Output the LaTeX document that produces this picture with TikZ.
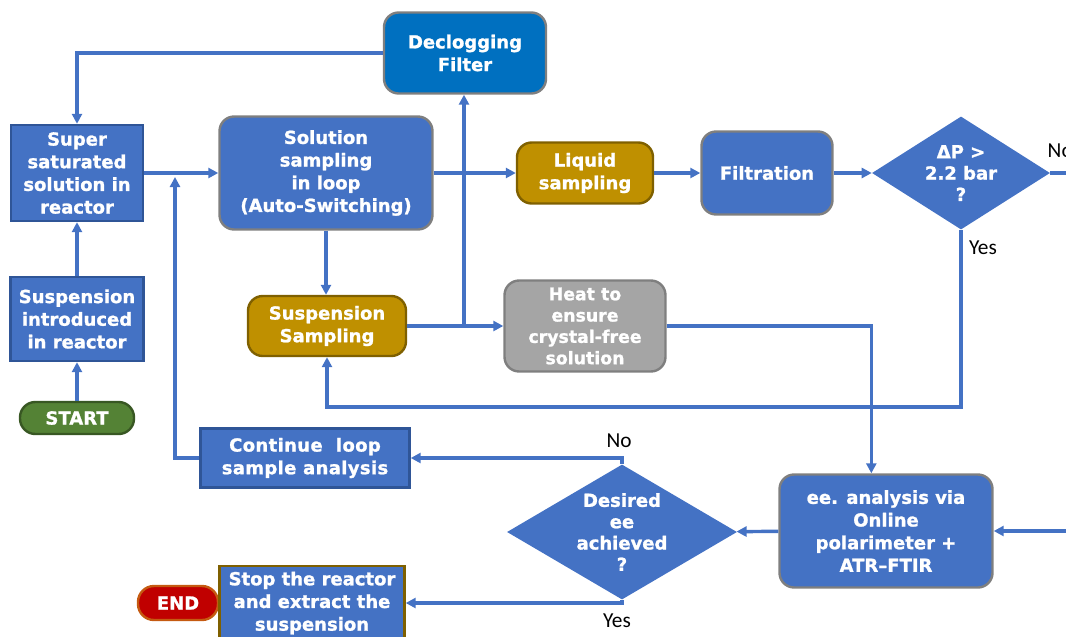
\documentclass[tikz,border=0pt]{standalone}
\usepackage{fontspec}
\setmainfont{DejaVu Sans}[BoldFeatures={FakeBold=1.2}]
\newfontfamily\yesnofont{Carlito}
\usetikzlibrary{arrows.meta,positioning,shapes.geometric}

\definecolor{boxblue}{HTML}{4472C4}
\definecolor{darkblue}{HTML}{2F5597}
\definecolor{filterblue}{HTML}{0070C0}
\definecolor{edgegray}{HTML}{7F7F7F}
\definecolor{mustard}{HTML}{BF9000}
\definecolor{brown}{HTML}{7F6000}
\definecolor{heatgray}{HTML}{A5A5A5}
\definecolor{startgreen}{HTML}{548235}
\definecolor{darkgreen}{HTML}{385723}
\definecolor{endred}{HTML}{C00000}
\definecolor{endorange}{HTML}{C55A11}

\begin{document}
\begin{tikzpicture}[x=0.75pt,y=-0.75pt,>={Triangle[length=7.5pt,width=7.5pt]},
  sz/.style 2 args={minimum width=#1*0.75pt,minimum height=#2*0.75pt},
  box/.style={draw=darkblue,line width=1.8pt,fill=boxblue,text=white,align=center,
    inner sep=0pt,font=\fontsize{13.5}{17}\selectfont\bfseries},
  rbox/.style={box,draw=edgegray,rounded corners=11pt},
  sample/.style={rbox,fill=mustard,draw=brown},
  dia/.style={diamond,fill=boxblue,inner sep=0pt},
  dtext/.style={text=white,align=center,font=\fontsize{13.5}{16}\selectfont\bfseries},
  flow/.style={->,draw=boxblue,line width=2.6pt},
  answer/.style={font=\yesnofont\fontsize{16}{18}\selectfont}]
\useasboundingbox (0,0) rectangle (1066,636);

% boxes
\node[rbox,fill=filterblue,sz={162}{81}] (declog) at (465,53) {Declogging\\Filter};
\node[box,sz={132}{96}] (super) at (77,173) {Super\\saturated\\solution in\\reactor};
\node[box,sz={133}{84}] (susp) at (77,319) {Suspension\\introduced\\in reactor};
\node[box,fill=startgreen,draw=darkgreen,rounded corners=11.5pt,sz={114}{32}] (start) at (77,418) {START};
\node[rbox,sz={213}{113}] (sol) at (326,173) {Solution\\sampling\\in loop\\(Auto-Switching)};
\node[sample,sz={136}{61}] (liquid) at (585,173) {Liquid\\sampling};
\node[rbox,sz={131}{83}] (filt) at (767,173) {Filtration};
\node[dia,sz={178}{113},label={[dtext]center:{ΔP >\\2.2 bar\\?}}] (dp) at (961,173) {};
\node[sample,sz={158}{60}] (ssamp) at (327,326) {Suspension\\Sampling};
\node[rbox,fill=heatgray,draw=edgegray,sz={161}{91},font=\fontsize{13}{16}\selectfont\bfseries] (heat) at (585,326) {Heat to\\ensure\\crystal-free\\solution};
\node[box,sz={209}{59},font=\fontsize{13.5}{17}\selectfont\bfseries\addfontfeature{LetterSpace=2}] (cont) at (305,458) {Continue\ \ loop\\sample analysis};
\node[rbox,sz={213}{113}] (ee) at (886,531) {ee. analysis via\\Online\\polarimeter +\\ATR–FTIR};
\node[dia,sz={230}{135},label={[dtext]center:{Desired\\ee\\achieved\\?}}] (dee) at (622,532) {};
\node[box,fill=endred,draw=endorange,rounded corners=12pt,sz={80}{34}] (endn) at (178,603) {END};
\node[box,draw=brown,sz={185}{74}] (stop) at (312,603) {Stop the reactor\\and extract the\\suspension};

% free ends and joints
\coordinate (joinL) at (175,177);
\coordinate (joinV) at (464,326);
\coordinate (loopB) at (961,407);
\coordinate (outR) at (1070,173);
\coordinate (inR) at (1070,531);

% connectors
\draw[flow] (start) -- (susp);
\draw[flow] (susp) -- (super);
\draw[flow] (super) -- (sol);
\draw[flow] (declog.west) -| (super.north);
\draw[flow] (cont.west) -| (joinL);
\draw[flow] (sol) -- (liquid);
\draw[flow] (sol.south) -- (sol.south |- ssamp.north);
\draw[flow] (ssamp) -- (heat);
\draw[flow] (joinV) -- (joinV |- declog.south);
\draw[flow] (liquid) -- (filt);
\draw[flow] (filt) -- (dp);
\draw[flow] (dp.south) -- (loopB) -| (ssamp.south);
\draw[boxblue,line width=2.6pt] (dp.east) -- (outR);
\draw[flow] (heat.east) -| ([xshift=-11pt]ee.north);
\draw[flow] (inR) -- (ee.east);
\draw[flow] (ee) -- (dee);
\draw[flow] (dee.north) |- (cont.east);
\draw[flow] (dee.south) |- (stop.east);

% answers
\node[answer] (dpyes) at (983,248) {Yes};
\node[answer,anchor=west] (dpno) at (1043,151) {No};
\node[answer] (deeno) at (619,441) {No};
\node[answer] (deeyes) at (617,621) {Yes};
\end{tikzpicture}
\end{document}
